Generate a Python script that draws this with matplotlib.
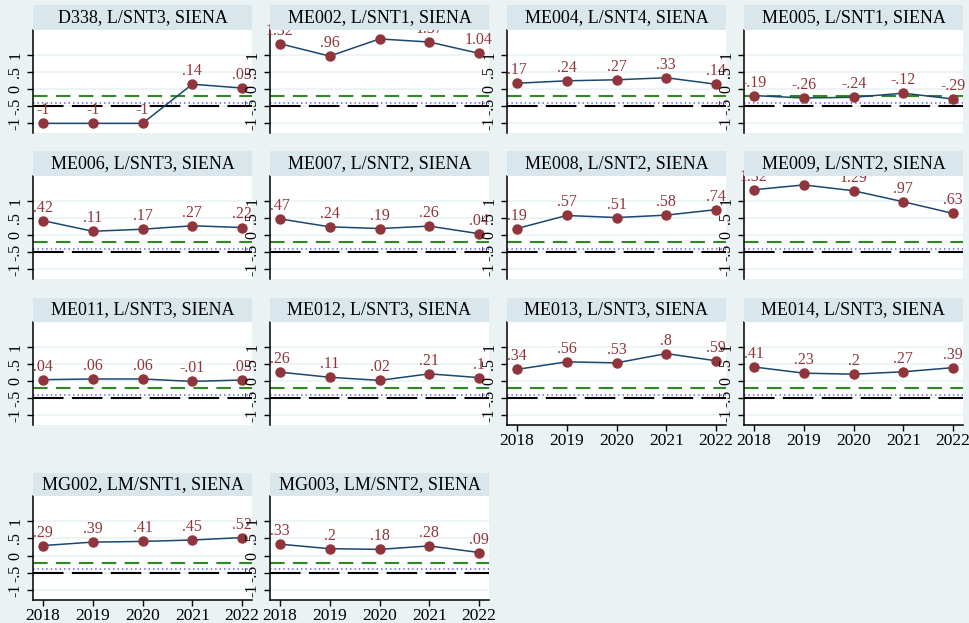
import matplotlib.pyplot as plt
from matplotlib.patches import Rectangle

plt.rcParams["font.family"] = ["Liberation Serif", "DejaVu Serif"]
plt.rcParams["lines.scale_dashes"] = False

years = [2018, 2019, 2020, 2021, 2022]

# one series per course
d338 = [-1, -1, -1, 0.14, 0.03]
me002 = [1.32, 0.96, 1.46, 1.37, 1.04]
me004 = [0.17, 0.24, 0.27, 0.33, 0.14]
me005 = [-0.19, -0.26, -0.24, -0.12, -0.29]
me006 = [0.42, 0.11, 0.17, 0.27, 0.22]
me007 = [0.47, 0.24, 0.19, 0.26, 0.04]
me008 = [0.19, 0.57, 0.51, 0.58, 0.74]
me009 = [1.32, 1.46, 1.29, 0.97, 0.63]
me011 = [0.04, 0.06, 0.06, -0.01, 0.03]
me012 = [0.26, 0.11, 0.02, 0.21, 0.1]
me013 = [0.34, 0.56, 0.53, 0.8, 0.59]
me014 = [0.41, 0.23, 0.2, 0.27, 0.39]
mg002 = [0.29, 0.39, 0.41, 0.45, 0.52]
mg003 = [0.33, 0.2, 0.18, 0.28, 0.09]

titles = [
    "D338, L/SNT3, SIENA", "ME002, L/SNT1, SIENA", "ME004, L/SNT4, SIENA",
    "ME005, L/SNT1, SIENA", "ME006, L/SNT3, SIENA", "ME007, L/SNT2, SIENA",
    "ME008, L/SNT2, SIENA", "ME009, L/SNT2, SIENA", "ME011, L/SNT3, SIENA",
    "ME012, L/SNT3, SIENA", "ME013, L/SNT3, SIENA", "ME014, L/SNT3, SIENA",
    "MG002, LM/SNT1, SIENA", "MG003, LM/SNT2, SIENA",
]
series = [d338, me002, me004, me005, me006, me007, me008, me009,
          me011, me012, me013, me014, mg002, mg003]

yticks = [-1, -0.5, 0, 0.5, 1]
ytick_labels = ["-1", "-.5", "0", ".5", "1"]

# reference levels
green_ref = -0.2
blue_ref = -0.4
black_ref = -0.5

BG = "#EAF2F3"
STRIP = "#D9E6EB"
NAVY = "#1A476F"
MAROON = "#90353B"

W, H = 970, 623
col_left = [33, 270, 507, 744]
panel_w = 219
# (title top, title bottom / plot top, plot bottom) in pixels
rows = [(5, 30, 133), (151, 176, 279), (298, 322, 425), (473, 496, 600)]


def stata_fmt(v):
    s = f"{v:.2f}".rstrip("0").rstrip(".")
    if s.startswith("-0."):
        s = "-" + s[2:]
    elif s.startswith("0."):
        s = s[1:]
    return s


fig = plt.figure(figsize=(W / 100, H / 100), dpi=100, facecolor=BG)

n = len(series)
for i, (title, vals) in enumerate(zip(titles, series)):
    r, c = divmod(i, 4)
    top, ptop, pbot = rows[r]
    x0 = col_left[c]
    ax = fig.add_axes([x0 / W, 1 - pbot / H, panel_w / W, (pbot - ptop) / H])
    ax.set_facecolor("white")
    ax.set_xlim(2017.8, 2022.2)
    ax.set_ylim(-1.28, 1.72)

    ax.set_yticks(yticks)
    ax.set_yticklabels(ytick_labels, rotation=90, va="center", fontsize=11.5)
    ax.grid(axis="y", color=BG, lw=1.2, zorder=0)
    ax.set_axisbelow(True)

    for side in ["top", "right"]:
        ax.spines[side].set_visible(False)
    ax.spines["left"].set_color("black")
    ax.spines["left"].set_linewidth(1.1)
    ax.tick_params(axis="y", direction="out", length=4, width=1, pad=3)

    # bottom panel of each column carries the year axis
    bottom_of_col = (i + 4) >= n
    if bottom_of_col:
        ax.spines["bottom"].set_color("black")
        ax.spines["bottom"].set_linewidth(1.1)
        ax.set_xticks(years)
        ax.set_xticklabels([str(y) for y in years], fontsize=12.5)
        ax.tick_params(axis="x", direction="out", length=4, width=1, pad=2)
    else:
        ax.spines["bottom"].set_visible(False)
        ax.set_xticks([])

    ax.axhline(black_ref, color="black", lw=1.5, dashes=(22, 6), zorder=2)
    ax.axhline(blue_ref, color="#6F6FFF", lw=1.3, dashes=(1, 2.2), zorder=2)
    ax.axhline(green_ref, color="#2E8B22", lw=1.5, dashes=(10.5, 6), zorder=2)

    ax.plot(years, vals, color=NAVY, lw=1.1, zorder=3)
    ax.plot(years, vals, "o", color=MAROON, ms=6.5, zorder=4)
    for x, v in zip(years, vals):
        ax.annotate(stata_fmt(v), (x, v), xytext=(0, 5),
                    textcoords="offset pixels", ha="center", va="bottom",
                    color=MAROON, fontsize=11.5, annotation_clip=False,
                    zorder=5)

    # title strip drawn over the panel top
    fig.add_artist(Rectangle((x0 / W, 1 - ptop / H), panel_w / W,
                             (ptop - top) / H, transform=fig.transFigure,
                             facecolor=STRIP, edgecolor="none", zorder=10))
    fig.text((x0 + panel_w / 2) / W, 1 - (top + ptop) / 2 / H, title,
             ha="center", va="center", fontsize=13, zorder=11)

fig.savefig("out.png", dpi=100, facecolor=BG)
